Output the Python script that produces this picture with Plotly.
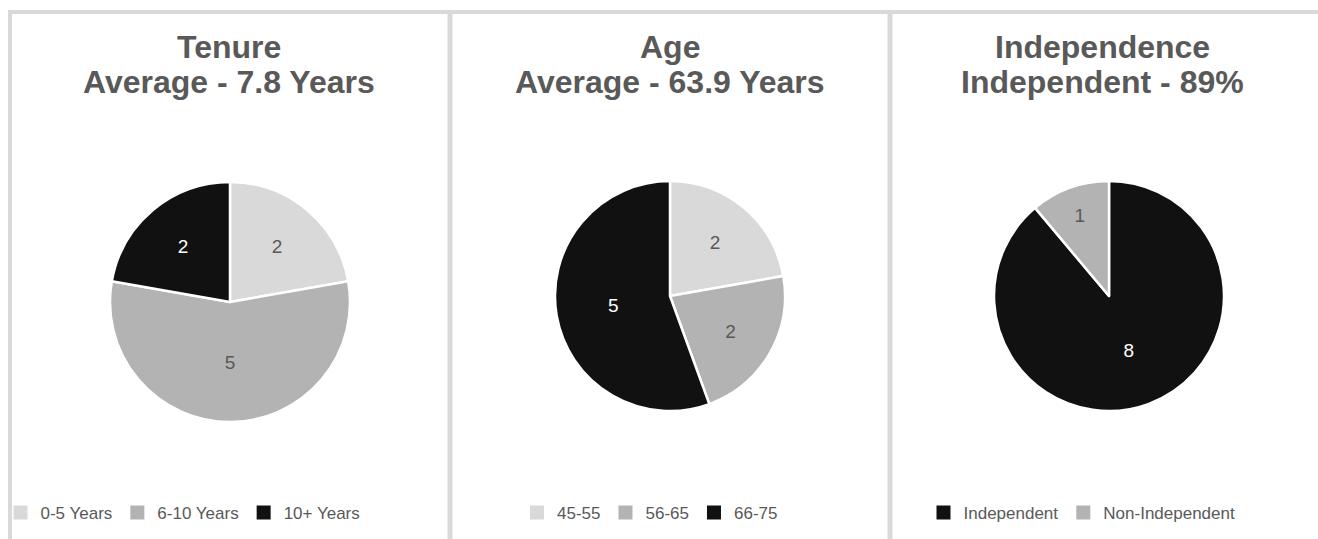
import plotly.graph_objects as go

W, H = 1318, 539

# ---- data ----
tenure_labels = ["0-5 Years", "6-10 Years", "10+ Years"]
tenure_values = [2, 5, 2]
age_labels = ["45-55", "56-65", "66-75"]
age_values = [2, 2, 5]
indep_labels = ["Independent", "Non-Independent"]
indep_values = [8, 1]

titles = [
    ("Tenure", "Average - 7.8 Years"),
    ("Age", "Average - 63.9 Years"),
    ("Independence", "Independent - 89%"),
]

LIGHT, MID, DARK = "#d9d9d9", "#b3b3b3", "#111111"
GREY = "#595959"
FONT = "Liberation Sans, Arial, sans-serif"


def px_x(v):
    return v / W


def px_y(v):
    return 1 - v / H


def dom(cx, cy, r):
    return dict(x=[px_x(cx - r), px_x(cx + r)], y=[px_y(cy + r), px_y(cy - r)])


panels = [
    (tenure_labels, tenure_values, [LIGHT, MID, DARK], [GREY, GREY, "white"], (230, 302, 120), "legend"),
    (age_labels, age_values, [LIGHT, MID, DARK], [GREY, GREY, "white"], (670, 296, 115), "legend2"),
    (indep_labels, indep_values, [DARK, MID], ["white", GREY], (1109, 296, 115), "legend3"),
]

fig = go.Figure()
for labels, values, colors, tcolors, (cx, cy, r), leg in panels:
    # base pie: supplies the legend swatches (solid squares)
    fig.add_trace(go.Pie(
        labels=labels, values=values, sort=False, direction="clockwise", rotation=0,
        domain=dom(cx, cy, r - 1),
        marker=dict(colors=colors, line=dict(color=colors, width=2)),
        textinfo="none", hoverinfo="skip", legend=leg, showlegend=True,
    ))
    # visible pie with white separators and value labels
    fig.add_trace(go.Pie(
        labels=labels, values=values, sort=False, direction="clockwise", rotation=0,
        domain=dom(cx, cy, r),
        marker=dict(colors=colors, line=dict(color="white", width=2.5)),
        textinfo="value", textposition="inside",
        textfont=dict(color=tcolors, size=19, family=FONT),
        insidetextfont=dict(color=tcolors, size=19, family=FONT),
        legend=leg, showlegend=False, hoverinfo="label+value",
    ))

leg_common = dict(orientation="h", yanchor="middle", xanchor="center",
                  font=dict(family=FONT, size=17, color=GREY),
                  bgcolor="rgba(0,0,0,0)", itemclick=False, itemdoubleclick=False)

annotations = []
centers = [229, 670, 1102]
for (l1, l2), cx in zip(titles, centers):
    for txt, cy in ((l1, 47), (l2, 82)):
        annotations.append(dict(
            text=f"<b>{txt}</b>", x=px_x(cx), y=px_y(cy), xref="paper", yref="paper",
            xanchor="center", yanchor="middle", showarrow=False,
            font=dict(family=FONT, size=32, color=GREY)))

border = "#d9d9d9"
shapes = [
    dict(type="line", xref="paper", yref="paper", x0=px_x(8), x1=1, y0=px_y(12), y1=px_y(12),
         line=dict(color=border, width=4)),
    dict(type="line", xref="paper", yref="paper", x0=px_x(10), x1=px_x(10), y0=px_y(10), y1=0,
         line=dict(color=border, width=4)),
    dict(type="line", xref="paper", yref="paper", x0=px_x(450), x1=px_x(450), y0=px_y(12), y1=0,
         line=dict(color=border, width=5)),
    dict(type="line", xref="paper", yref="paper", x0=px_x(890), x1=px_x(890), y0=px_y(12), y1=0,
         line=dict(color=border, width=5)),
]

fig.update_layout(
    width=W, height=H, margin=dict(l=0, r=0, t=0, b=0),
    paper_bgcolor="white", plot_bgcolor="white",
    font=dict(family=FONT, color=GREY),
    showlegend=True,
    legend=dict(x=px_x(183), y=px_y(513), **leg_common),
    legend2=dict(x=px_x(650), y=px_y(513), **leg_common),
    legend3=dict(x=px_x(1082), y=px_y(513), **leg_common),
    annotations=annotations, shapes=shapes,
)

fig.write_html("out.html")
